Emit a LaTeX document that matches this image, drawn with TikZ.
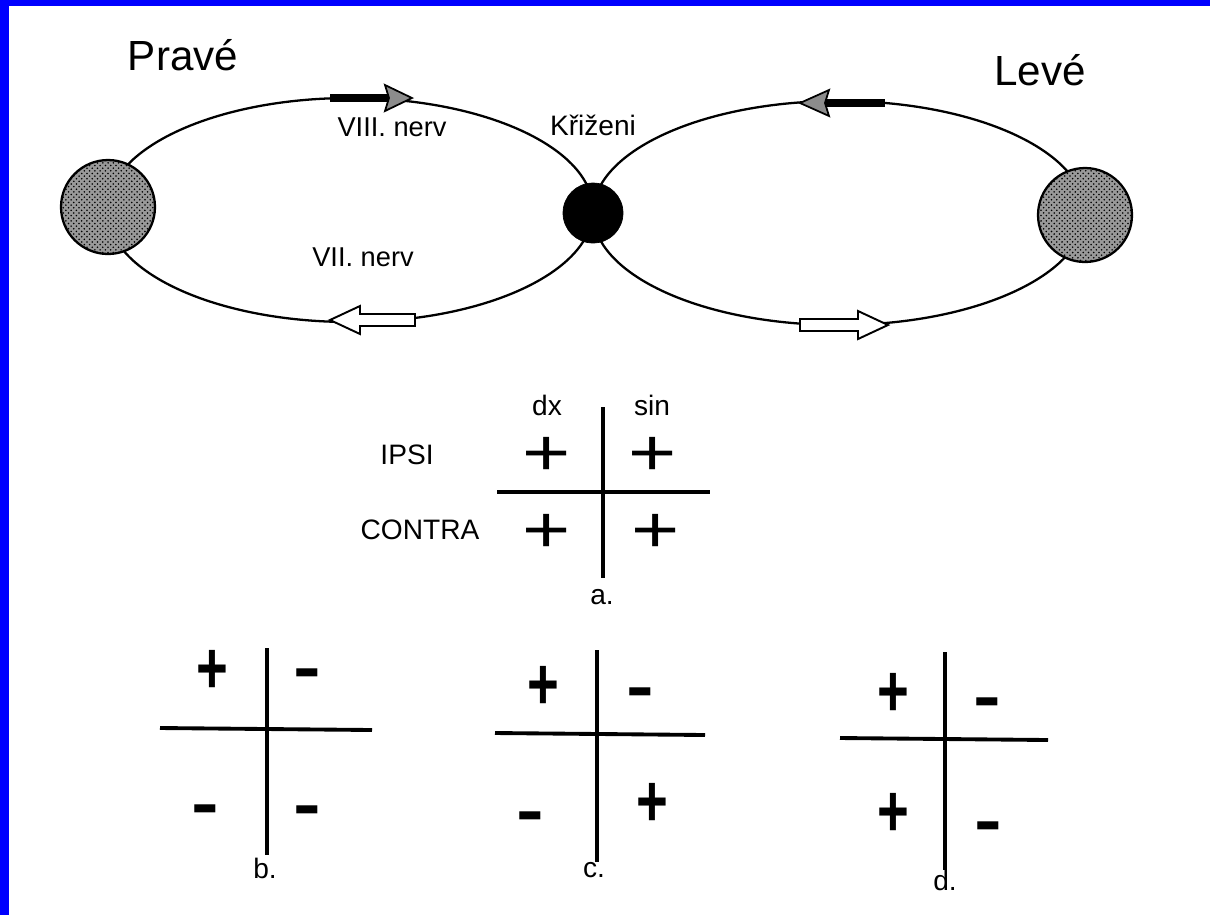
\documentclass[tikz,border=0pt]{standalone}
\usepackage{fontspec}
\setmainfont{Liberation Sans}
\usetikzlibrary{patterns}
\tikzset{
  loopline/.style={line width=1.3pt},
  gridline/.style={line width=2.2pt},
  nucleus/.style={circle, draw=black, line width=1.3pt, fill=black!40, inner sep=0pt, minimum size=1.88cm,
     postaction={pattern=crosshatch dots, pattern color=black}},
  cross/.style={circle, draw=black, fill=black, inner sep=0pt, minimum width=1.2cm},
  lbl/.style={inner sep=0pt, font=\fontsize{16}{18}\selectfont},
  bigl/.style={inner sep=0pt, font=\fontsize{24}{26}\selectfont},
  sgn/.style={inner sep=0pt},
  darrow/.style={line width=4pt},
  dhead/.style={draw=black, line width=1pt, fill=black!45},
  warrow/.style={draw=black, line width=1.1pt, fill=white}
}
\newcommand{\bigplus}{\scalebox{1}[0.8]{\fontsize{47}{47}\selectfont\raisebox{0pt}[0.58em][-0.1em]{+}}}
\newcommand{\tallplus}{\scalebox{1}[1.35]{\bfseries\fontsize{31}{31}\selectfont\raisebox{0pt}[0.58em][-0.1em]{+}}}
\newcommand{\thickminus}{\scalebox{1.05}[2]{\bfseries\fontsize{23}{23}\selectfont\raisebox{0pt}[0.33em][-0.22em]{–}}}
\begin{document}
\begin{tikzpicture}[x=0.02cm,y=-0.02cm]
\useasboundingbox (0,0) rectangle (1210,914);
\fill[white] (-10,-10) rectangle (1220,924);
\fill[blue] (-10,-10) rectangle (1220,6);
\fill[blue] (-10,-10) rectangle (9,924);

% loops
\draw[loopline] (350,210) ellipse [x radius=243, y radius=112];
\draw[loopline] (839,213) ellipse [x radius=246, y radius=112];

% nuclei
\node[nucleus] (pn) at (108,207) {};
\node[nucleus] (ln) at (1085,215) {};
\node[cross] (kr) at (593,213) {};

% arrows
\draw[darrow] (330,98) -- (388,98);
\draw[dhead] (412,98) -- (385,85) -- (389,98) -- (385,111) -- cycle;
\draw[darrow] (826,103) -- (885,103);
\draw[dhead] (800,103) -- (829,90) -- (825,103) -- (829,116) -- cycle;
\draw[warrow] (330,320) -- (360,306) -- (360,314) -- (415,314) -- (415,326) -- (360,326) -- (360,334) -- cycle;
\draw[warrow] (888,325) -- (858,311) -- (858,319) -- (800,319) -- (800,331) -- (858,331) -- (858,339) -- cycle;

% labels
\node[bigl] (prave) at (183,55) {Pravé};
\node[bigl] (leve) at (1040,70) {Levé};
\node[lbl, font=\fontsize{15.5}{18}\selectfont] (n8) at (392,127) {VIII. nerv};
\node[lbl, font=\fontsize{15.5}{18}\selectfont] (n7) at (363,257) {VII. nerv};
\node[lbl] (kriz) at (593,125) {Křiženi};

% grid a
\coordinate (av1) at (603,407); \coordinate (av2) at (603,578);
\coordinate (ah1) at (497,492); \coordinate (ah2) at (710,492);
\draw[gridline] (av1) -- (av2);
\draw[gridline] (ah1) -- (ah2);
\node[lbl] (dx) at (547,405) {dx};
\node[lbl] (sin) at (652,405) {sin};
\node[lbl] (ipsi) at (407,455) {IPSI};
\node[lbl] (contra) at (420,530) {CONTRA};
\node[sgn] (a11) at (547,456) {\bigplus};
\node[sgn] (a12) at (653,456) {\bigplus};
\node[sgn] (a21) at (547,533) {\bigplus};
\node[sgn] (a22) at (656,533) {\bigplus};
\node[lbl] (la) at (602,597) {a.};

% grid b
\coordinate (bv1) at (267,648); \coordinate (bv2) at (267,855);
\coordinate (bh1) at (160,728); \coordinate (bh2) at (372,730);
\draw[gridline] (bv1) -- (bv2);
\draw[gridline] (bh1) -- (bh2);
\node[sgn] (b11) at (212,672) {\tallplus};
\node[sgn] (b12) at (307,681) {\thickminus};
\node[sgn] (b21) at (205,817) {\thickminus};
\node[sgn] (b22) at (307,818) {\thickminus};
\node[lbl] (lb) at (265,868) {b.};

% grid c
\coordinate (cv1) at (597,650); \coordinate (cv2) at (597,862);
\coordinate (ch1) at (495,733); \coordinate (ch2) at (705,735);
\draw[gridline] (cv1) -- (cv2);
\draw[gridline] (ch1) -- (ch2);
\node[sgn] (c11) at (543,688) {\tallplus};
\node[sgn] (c12) at (640,700) {\thickminus};
\node[sgn] (c21) at (530,824) {\thickminus};
\node[sgn] (c22) at (652,805) {\tallplus};
\node[lbl] (lc) at (594,870) {c.};

% grid d
\coordinate (dv1) at (945,652); \coordinate (dv2) at (945,870);
\coordinate (dh1) at (840,738); \coordinate (dh2) at (1048,740);
\draw[gridline] (dv1) -- (dv2);
\draw[gridline] (dh1) -- (dh2);
\node[sgn] (d11) at (893,695) {\tallplus};
\node[sgn] (d12) at (987,710) {\thickminus};
\node[sgn] (d21) at (893,815) {\tallplus};
\node[sgn] (d22) at (988,834) {\thickminus};
\node[lbl] (ld) at (945,880) {d.};
\end{tikzpicture}
\end{document}
